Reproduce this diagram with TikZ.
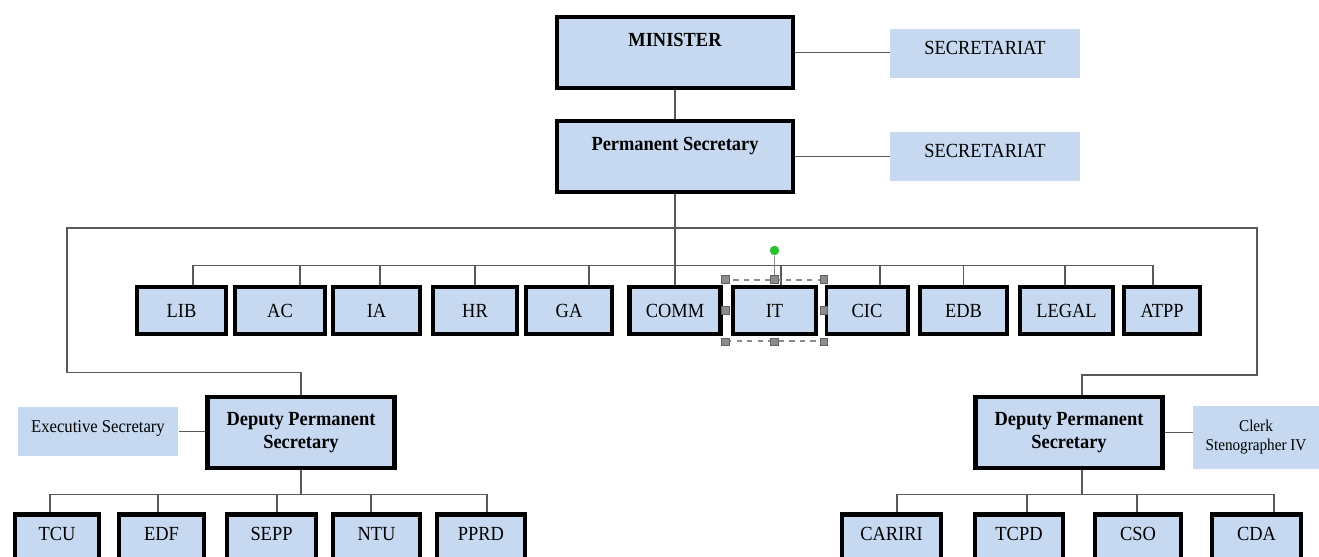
\documentclass[tikz,border=0pt]{standalone}
\usepackage{fontspec}
\setmainfont{Liberation Serif}[FakeStretch=0.92]
\usetikzlibrary{calc}
\definecolor{boxblue}{HTML}{C6D9F1}
\definecolor{linegray}{HTML}{595959}
\definecolor{handlegray}{HTML}{8C8C8C}
\definecolor{rotgreen}{HTML}{2BC02F}
\tikzset{
  unit/.style={draw=black, line width=2.6pt, fill=boxblue, inner sep=0pt,
    font=\fontsize{11.4}{13.1}\selectfont, text height=7.6pt, text depth=0pt,
    minimum height=0.94cm},
  head/.style={unit, font=\bfseries\fontsize{11.4}{13.1}\selectfont,
    minimum width=4.72cm, minimum height=0pt, text height=16.6pt, text depth=23.8pt},
  deputy/.style={unit, font=\bfseries\fontsize{11.4}{13.1}\selectfont, align=center,
    text height={}, text depth={}, minimum width=3.74cm, minimum height=1.42cm},
  lowunit/.style={unit, anchor=north, minimum height=0pt, text height=15.2pt, text depth=28pt},
  aide/.style={fill=boxblue, inner sep=0pt, font=\fontsize{11.4}{13.1}\selectfont,
    text height=14.6pt, text depth=13pt},
  link/.style={draw=linegray, line width=0.7pt},
  handle/.style={fill=handlegray, draw=handlegray!70!black, line width=0.3pt,
    minimum size=0.15cm, inner sep=0pt},
}
\begin{document}
\begin{tikzpicture}[x=0.02cm, y=-0.02cm]
\useasboundingbox (0,0) rectangle (1319,557);

\node[head] (minister) at (675,52.5) {MINISTER};
\node[head] (permsec) at (675,156.5) {Permanent Secretary};
\node[aide, minimum width=3.8cm] (secmin) at (985,53.5) {SECRETARIAT};
\node[aide, minimum width=3.8cm] (secps) at (985,156.5) {SECRETARIAT};
\draw[link] (minister.east) -- (minister.east -| secmin.west);
\draw[link] (permsec.east) -- (permsec.east -| secps.west);
\draw[link] (minister.south) -- (permsec.north);

\foreach \name/\x/\w/\txt in {lib/181.5/89/LIB, ac/280/90/AC, ia/376.5/87/IA,
    hr/475/84/HR, ga/569/86/GA, comm/675/91/COMM, it/774.5/83/IT, cic/867/82/CIC,
    edb/963.5/87/EDB, legal/1066.5/93/LEGAL, atpp/1162/76/ATPP}
  \node[unit, minimum width=\w*0.02cm] (\name) at (\x,310.5) {\txt};

\path (permsec.south) ++(0,71) coordinate (rowbus);
\draw[link] (permsec.south) -- (comm.north);
\foreach \name/\dx in {lib/11.5, ac/20, ia/3.5, hr/0, ga/20, comm/0, it/6.5,
    cic/13, edb/0, legal/-1.5, atpp/-9}
  \draw[link] ([xshift=\dx*0.02cm]\name.north) |- (rowbus);

\node[deputy] (depl) at (301,432.5) {Deputy Permanent\\Secretary};
\node[deputy] (depr) at (1069,432.5) {Deputy Permanent\\Secretary};
\node[aide, minimum width=3.22cm, font=\fontsize{10.3}{12}\selectfont] (execsec) at (98,431.5) {Executive Secretary};
\node[aide, text height={}, text depth={}, align=center, minimum width=2.52cm,
  minimum height=1.26cm, font=\fontsize{9.4}{10.8}\selectfont] (clerk) at (1256,437.5) {Clerk\\Stenographer IV};
\draw[link] (execsec.east) -- (execsec.east -| depl.west);
\draw[link] (depr.east) -- (depr.east -| clerk.west);

\coordinate (frametl) at (67,228);
\coordinate (frametr) at (1257,228);
\draw[link] (depl.north) -- ++(0,-22) -| (frametl) -- (frametr) -- ++(0,147)
  -| ([xshift=13*0.02cm]depr.north);

\foreach \name/\x/\w/\txt in {tcu/57/84/TCU, edf/161.5/85/EDF, sepp/271.5/89/SEPP,
    ntu/376.5/87/NTU, pprd/481/88/PPRD, cariri/891.5/99/CARIRI, tcpd/1019/88/TCPD,
    cso/1138/86/CSO, cda/1256.5/89/CDA}
  \node[lowunit, minimum width=\w*0.02cm] (\name) at (\x,512) {\txt};

\path (depl.south) ++(0,24) coordinate (busl);
\path ([xshift=13*0.02cm]depr.south) ++(0,24) coordinate (busr);
\draw[link] (depl.south) -- (busl);
\draw[link] ([xshift=13*0.02cm]depr.south) -- (busr);
\foreach \name/\dx in {tcu/-7, edf/-3.5, sepp/5.5, ntu/-5.5, pprd/6}
  \draw[link] ([xshift=\dx*0.02cm]\name.north) |- (busl);
\foreach \name/\dx in {cariri/5.5, tcpd/8, cso/-1, cda/17.5}
  \draw[link] ([xshift=\dx*0.02cm]\name.north) |- (busr);

\node[draw=handlegray, dashed, line width=0.6pt, minimum width=1.94cm,
  minimum height=1.22cm, inner sep=0pt] (itsel) at (it.center) {};
\draw[handlegray, line width=0.5pt, double=white, double distance=1.2pt]
  (itsel.north west) -- (itsel.south west);
\draw[handlegray, line width=0.5pt, double=white, double distance=1.2pt]
  (itsel.north east) -- (itsel.south east);
\node[circle, fill=rotgreen, minimum size=0.19cm, inner sep=0pt] (rotgrip)
  at ([yshift=0.58cm]itsel.north) {};
\draw[handlegray, line width=0.8pt] (rotgrip) -- (itsel.north);
\foreach \a/\n in {north west/1, north/2, north east/3, east/4, south east/5,
    south/6, south west/7, west/8}
  \node[handle] (grip\n) at (itsel.\a) {};
\end{tikzpicture}
\end{document}
